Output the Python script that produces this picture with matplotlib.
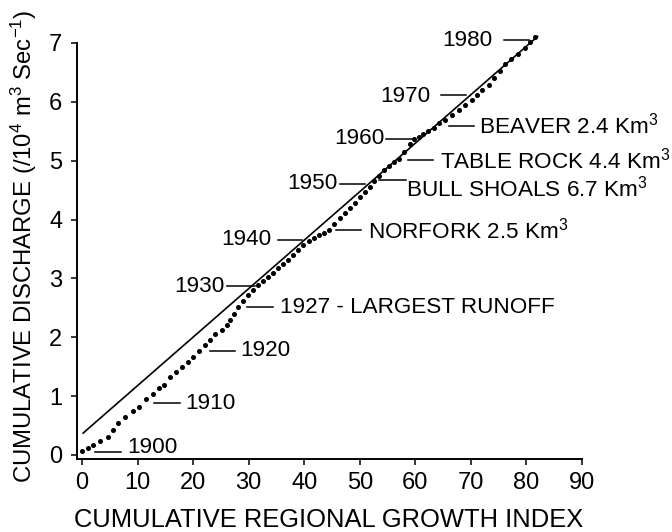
import matplotlib

matplotlib.use("Agg")
import matplotlib.pyplot as plt

plt.rcParams["font.family"] = ["Liberation Sans", "DejaVu Sans"]
plt.rcParams["mathtext.fontset"] = "custom"
plt.rcParams["mathtext.rm"] = "Liberation Sans"
plt.rcParams["mathtext.it"] = "Liberation Sans:italic"
plt.rcParams["mathtext.bf"] = "Liberation Sans:bold"

# cumulative regional growth index vs cumulative discharge, one dot per year
growth_index = [
    0.05, 1.1, 2.0, 3.2, 4.6, 5.5, 6.4, 7.7, 9.1, 10.3,
    11.6, 12.8, 13.8, 14.8, 15.8, 16.9, 18.0, 19.0, 20.0, 21.1,
    22.2, 23.1, 24.0, 25.2, 26.1, 26.7, 27.4, 28.0, 28.9, 29.8,
    30.7, 31.6, 32.5, 33.4, 34.3, 35.2, 36.1, 37.0, 37.9, 38.8,
    39.7, 40.8, 41.7, 42.6, 43.5, 44.4, 45.4, 46.4, 47.3, 48.3,
    49.2, 50.1, 51.0, 51.8, 52.6, 53.4, 54.3, 55.2, 56.1, 57.0,
    58.0, 59.0, 59.8, 60.6, 61.4, 62.3, 63.3, 64.2, 65.4, 66.6,
    67.8, 69.0, 70.2, 71.1, 72.0, 73.2, 74.1, 75.2, 76.2, 77.3,
    78.5, 79.8, 80.7, 81.6,
]
discharge = [
    0.06, 0.11, 0.16, 0.23, 0.31, 0.43, 0.54, 0.64, 0.74, 0.82,
    0.95, 1.04, 1.13, 1.19, 1.32, 1.41, 1.50, 1.58, 1.67, 1.77,
    1.87, 1.96, 2.05, 2.13, 2.21, 2.29, 2.40, 2.52, 2.62, 2.72,
    2.81, 2.88, 2.95, 3.02, 3.09, 3.17, 3.24, 3.32, 3.40, 3.49,
    3.57, 3.63, 3.68, 3.73, 3.77, 3.82, 3.92, 4.03, 4.11, 4.19,
    4.28, 4.38, 4.47, 4.56, 4.66, 4.74, 4.84, 4.91, 4.98, 5.03,
    5.15, 5.29, 5.36, 5.41, 5.46, 5.50, 5.56, 5.64, 5.69, 5.77,
    5.86, 5.94, 6.03, 6.11, 6.20, 6.28, 6.40, 6.53, 6.64, 6.72,
    6.81, 6.91, 7.01, 7.10,
]

# fitted trend line end points
trend_x = [0.2, 82.0]
trend_y = [0.37, 7.11]

x_ticks = [0, 10, 20, 30, 40, 50, 60, 70, 80, 90]
y_ticks = [0, 1, 2, 3, 4, 5, 6, 7]

# (text, dash start, dash end, dash y, text x, text y)
labels_left = [
    ("1930", 26.1, 31.2, 2.87, 25.6, 2.86),
    ("1940", 35.3, 39.6, 3.65, 34.1, 3.66),
    ("1950", 46.5, 51.0, 4.61, 46.0, 4.61),
    ("1960", 54.8, 59.6, 5.37, 54.4, 5.37),
    ("1970", 64.7, 69.2, 6.11, 62.7, 6.09),
    ("1980", 75.9, 80.4, 7.05, 73.9, 7.05),
]
labels_right = [
    ("1900", 2.3, 7.0, 0.05, 8.1, 0.12),
    ("1910", 13.0, 17.7, 0.88, 18.6, 0.88),
    ("1920", 23.1, 27.6, 1.77, 28.5, 1.77),
    ("1927 - LARGEST RUNOFF", 29.7, 34.4, 2.51, 35.7, 2.51),
    ("NORFORK 2.5 Km$^3$", 45.8, 50.3, 3.82, 51.5, 3.82),
    ("BULL SHOALS 6.7 Km$^3$", 53.5, 58.4, 4.67, 58.4, 4.53),
    ("TABLE ROCK 4.4 Km$^3$", 58.7, 63.2, 5.01, 64.5, 5.01),
    ("BEAVER 2.4 Km$^3$", 66.1, 70.6, 5.59, 71.4, 5.59),
]

figure = plt.figure(figsize=(6.72, 5.32), dpi=100)
axis = figure.add_axes([0.1146, 0.1372, 0.7515, 0.782])

axis.plot(trend_x, trend_y, color="black", linewidth=1.2, clip_on=False)
axis.plot(growth_index, discharge, linestyle="none", marker="o",
          markersize=2.6, color="black", clip_on=False)

for text, start, end, y, tx, ty in labels_left:
    axis.plot([start, end], [y, y], color="black", linewidth=1.1, clip_on=False)
    axis.text(tx, ty, text, ha="right", va="center", fontsize=16.2)
for text, start, end, y, tx, ty in labels_right:
    axis.plot([start, end], [y, y], color="black", linewidth=1.1, clip_on=False)
    axis.text(tx, ty, text, ha="left", va="center", fontsize=16.2)

axis.set_xlim(-0.9, 90)
axis.set_ylim(-0.07, 7)
axis.spines["top"].set_visible(False)
axis.spines["right"].set_visible(False)
for side in ("left", "bottom"):
    axis.spines[side].set_linewidth(1.4)

axis.set_xticks(x_ticks)
axis.set_yticks(y_ticks)
axis.tick_params(axis="both", direction="out", length=4.5, width=1.1,
                 labelsize=17, color="black")
axis.tick_params(axis="x", pad=5)
axis.tick_params(axis="y", pad=6)

axis.set_xlabel("CUMULATIVE REGIONAL GROWTH INDEX", fontsize=18.4)
axis.set_ylabel(r"CUMULATIVE DISCHARGE (/10$^\mathrm{4}$ m$^\mathrm{3}$ Sec$^\mathrm{-1}$)",
                fontsize=17.2)
axis.xaxis.set_label_coords(0.499, -0.117)
axis.yaxis.set_label_coords(-0.075, 0.51)

figure.savefig("out.png", dpi=100)
